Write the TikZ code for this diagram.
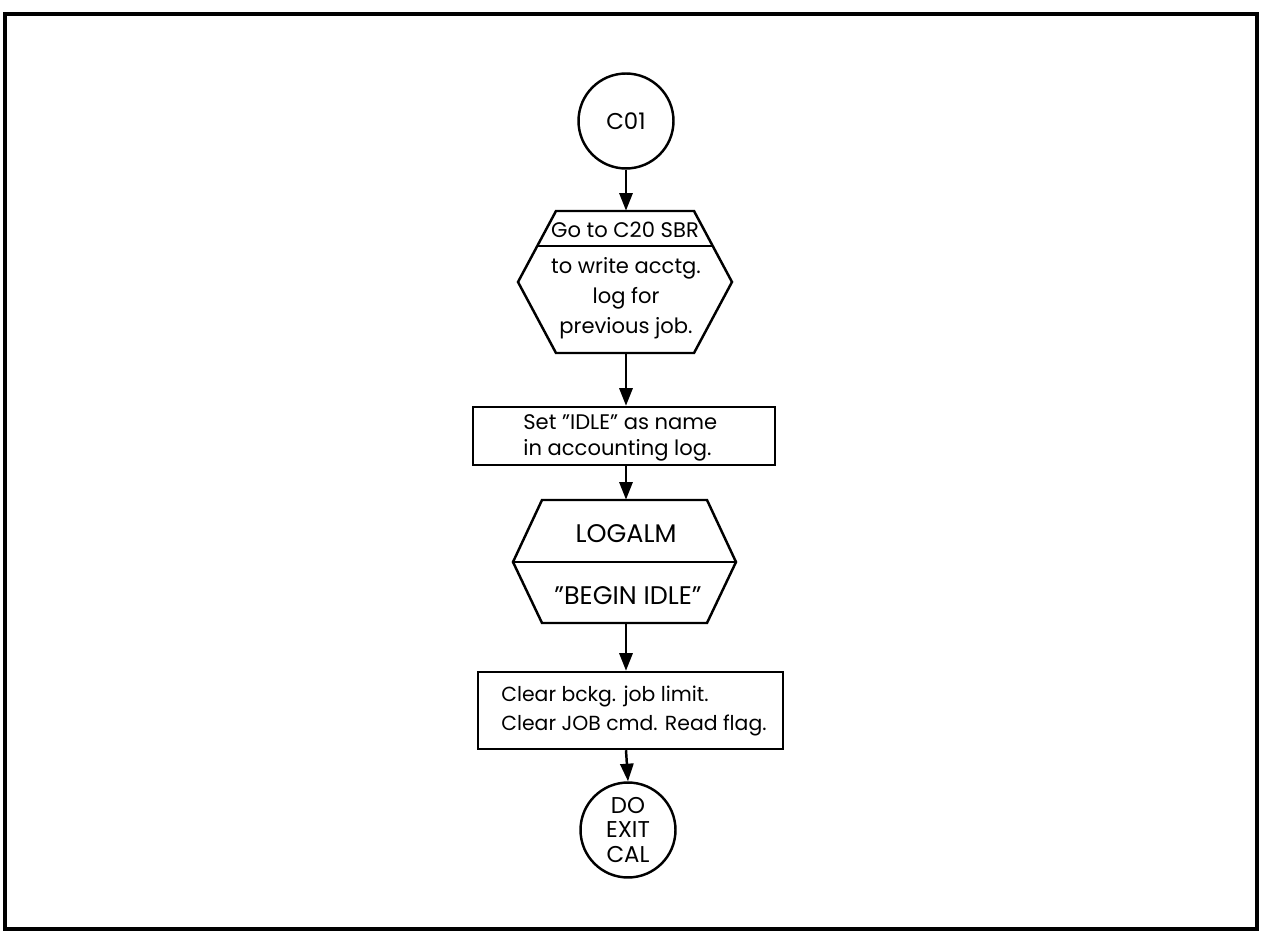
\documentclass[tikz,border=0pt]{standalone}
\usepackage{fontspec}
\setmainfont{Poppins}
\usetikzlibrary{arrows.meta,calc}

\begin{document}
\begin{tikzpicture}[x=0.02cm,y=-0.02cm,
  every node/.style={align=center, inner sep=0pt},
  txt/.style={font=\fontsize{12}{16}\selectfont},
  bigtxt/.style={font=\fontsize{13}{14}\selectfont},
  hextxt/.style={font=\fontsize{14.5}{16}\selectfont},
  outline/.style={line width=1.4pt, line join=miter},
  frame/.style={line width=1.8pt},
  terminal/.style={circle, draw, outline, minimum size=1.9cm},
  procbox/.style={rectangle, draw, outline},
  slot/.style={rectangle, draw=none},
  flow/.style={line width=1.4pt, -{Triangle[length=10pt,width=7.5pt]}},
]
\useasboundingbox (0,0) rectangle (1262,942);
\draw[frame] (5,14) rectangle (1257,929);

% entry connector
\node[terminal] (c01) at (626,121) {};
\node[bigtxt] at (c01) {C01};

% subroutine call: Go to C20 SBR
\node[slot, minimum width=4.28cm, minimum height=2.84cm] (sbr) at (625,282) {};
\draw[outline] (556,211) -- (694,211) -- (732,282) -- (694,353) -- (556,353) -- (518,282) -- cycle;
\draw[outline] (537,246) -- (713,246);
\node[txt] at (625,230) {Go to C20 SBR};
\node[txt, font=\fontsize{12}{17}\selectfont] at (626,298) {to write acctg.\\log for\\previous job.};

% set idle name
\node[procbox, minimum width=6.04cm, minimum height=1.16cm] (setidle) at (624,436) {};
\node[txt, font=\fontsize{12}{15}\selectfont, align=left, anchor=west] at (523,438) {Set "IDLE" as name\\in accounting log.};

% log alarm message
\node[slot, minimum width=4.46cm, minimum height=2.46cm] (logalm) at (624.5,561.5) {};
\draw[outline] (542,500) -- (707,500) -- (736,562) -- (707,623) -- (542,623) -- (513,562) -- cycle;
\draw[outline] (513,562) -- (736,562);
\node[hextxt] at (626,534) {LOGALM};
\node[hextxt] at (628,596) {"BEGIN IDLE"};

% clear limits
\node[procbox, minimum width=6.1cm, minimum height=1.54cm] (clear) at (630.5,710.5) {};
\node[txt, font=\fontsize{11.6}{16}\selectfont, align=left, anchor=west] at (501,711) {Clear bckg. job limit.\\Clear JOB cmd. Read flag.};

% exit
\node[terminal] (exit) at (628,830) {};
\node[bigtxt] at (exit) {DO\\EXIT\\CAL};

% connectors
\draw[flow] (c01.south) -- (c01.south |- sbr.north);
\draw[flow] (c01.south |- sbr.south) -- (c01.south |- setidle.north);
\draw[flow] (c01.south |- setidle.south) -- (c01.south |- logalm.north);
\draw[flow] (c01.south |- logalm.south) -- (c01.south |- clear.north);
\draw[flow] (c01.south |- clear.south) -- (exit.north);
\end{tikzpicture}
\end{document}
